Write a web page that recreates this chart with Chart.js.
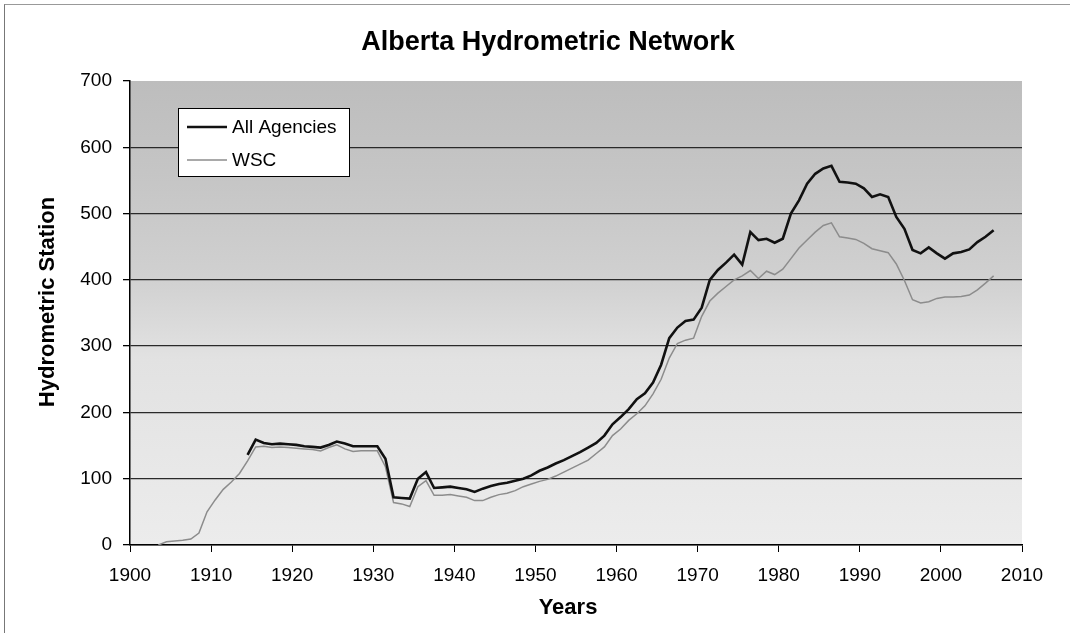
<!DOCTYPE html>
<html>
<head>
<meta charset="utf-8">
<title>Alberta Hydrometric Network</title>
<script src="https://cdn.jsdelivr.net/npm/chart.js@4.4.1/dist/chart.umd.min.js"></script>
<style>
  html, body { margin: 0; padding: 0; background: #fff; }
  #wrap { position: relative; width: 1070px; height: 633px; }
  #frame { position: absolute; left: 4px; top: 4px; right: 0; bottom: 0;
           border-left: 1px solid #777; border-top: 1px solid #999; }
  canvas { position: absolute; left: 0; top: 0; }
</style>
</head>
<body>
<div id="wrap">
  <div id="frame"></div>
  <canvas id="hydroChart" width="1070" height="633"></canvas>
</div>
<script>
var years = [
  1903, 1904, 1905, 1906, 1907, 1908, 1909,
  1910, 1911, 1912, 1913, 1914, 1915, 1916, 1917, 1918, 1919,
  1920, 1921, 1922, 1923, 1924, 1925, 1926, 1927, 1928, 1929,
  1930, 1931, 1932, 1933, 1934, 1935, 1936, 1937, 1938, 1939,
  1940, 1941, 1942, 1943, 1944, 1945, 1946, 1947, 1948, 1949,
  1950, 1951, 1952, 1953, 1954, 1955, 1956, 1957, 1958, 1959,
  1960, 1961, 1962, 1963, 1964, 1965, 1966, 1967, 1968, 1969,
  1970, 1971, 1972, 1973, 1974, 1975, 1976, 1977, 1978, 1979,
  1980, 1981, 1982, 1983, 1984, 1985, 1986, 1987, 1988, 1989,
  1990, 1991, 1992, 1993, 1994, 1995, 1996, 1997, 1998, 1999,
  2000, 2001, 2002, 2003, 2004, 2005, 2006
];

var allAgencies = [
  null, null, null, null, null, null, null,
  null, null, null, null, 136, 159, 154, 152, 153, 152,
  151, 149, 148, 147, 151, 156, 153, 149, 149, 149,
  149, 130, 72, 71, 70, 100, 110, 86, 87, 88,
  86, 84, 80, 85, 89, 92, 94, 97, 100, 105,
  112, 117, 123, 128, 134, 140, 147, 154, 165, 182,
  193, 205, 220, 229, 245, 272, 312, 328, 338, 340,
  358, 400, 415, 426, 438, 423, 472, 460, 462, 456,
  462, 500, 520, 545, 560, 568, 572, 548, 547, 545,
  538, 525, 529, 525, 495, 477, 445, 440, 449, 440,
  432, 440, 442, 446, 457, 465, 475
];

var wsc = [
  0, 5, 6, 7, 9, 18, 50,
  68, 84, 95, 108, 127, 148, 149, 147, 148, 147,
  146, 145, 144, 142, 147, 151, 145, 141, 142, 142,
  142, 118, 64, 62, 58, 88, 97, 75, 75, 76,
  74, 72, 67, 67, 72, 76, 78, 82, 88, 92,
  96, 99, 104, 110, 116, 122, 128, 138, 148, 165,
  175, 188, 198, 210, 228, 250, 282, 304, 309, 312,
  345, 368, 380, 390, 400, 406, 414, 402, 413, 408,
  416, 432, 448, 460, 472, 482, 486, 465, 463, 461,
  455, 447, 444, 441, 424, 399, 370, 365, 367, 372,
  374, 374, 375, 377, 385, 395, 406
];

var yTicks = [0, 100, 200, 300, 400, 500, 600, 700];
var xTicks = [1900, 1910, 1920, 1930, 1940, 1950, 1960, 1970, 1980, 1990, 2000, 2010];

var FONT = '"Liberation Sans", Arial, sans-serif';

// each year is plotted in the middle of its one-year slot, like the original
function toPoints(vals) {
  return years.map(function (yr, i) { return { x: yr + 0.5, y: vals[i] }; });
}

var plotBackground = {
  id: 'plotBackground',
  beforeDraw: function (chart) {
    var a = chart.chartArea, ctx = chart.ctx;
    var g = ctx.createLinearGradient(0, a.top, 0, a.bottom);
    g.addColorStop(0, '#bdbdbd');
    g.addColorStop(0.22, '#c6c6c6');
    g.addColorStop(0.42, '#d0d0d0');
    g.addColorStop(0.6, '#e2e2e2');
    g.addColorStop(1, '#ececec');
    ctx.save();
    ctx.fillStyle = g;
    ctx.fillRect(a.left, a.top, a.right - a.left, a.bottom - a.top);
    ctx.restore();
  }
};

var textAndLegend = {
  id: 'textAndLegend',
  afterDraw: function (chart) {
    var ctx = chart.ctx;
    ctx.save();
    ctx.fillStyle = '#000';
    ctx.textAlign = 'center';
    ctx.textBaseline = 'middle';
    ctx.font = 'bold 27px ' + FONT;
    ctx.fillText('Alberta Hydrometric Network', 548, 43);
    ctx.font = 'bold 22px ' + FONT;
    ctx.fillText('Years', 568, 608);
    ctx.save();
    ctx.translate(48, 302);
    ctx.rotate(-Math.PI / 2);
    ctx.fillText('Hydrometric Station', 0, 0);
    ctx.restore();

    // legend box inside the plot
    ctx.fillStyle = '#fff';
    ctx.fillRect(178, 108, 171, 68);
    ctx.strokeStyle = '#000';
    ctx.lineWidth = 1;
    ctx.strokeRect(178.5, 108.5, 171, 68);
    ctx.font = '19px ' + FONT;
    ctx.textAlign = 'left';
    var rows = [127, 160];
    chart.data.datasets.forEach(function (ds, i) {
      ctx.strokeStyle = ds.borderColor;
      ctx.lineWidth = ds.borderWidth;
      ctx.beginPath();
      ctx.moveTo(187, rows[i]);
      ctx.lineTo(227, rows[i]);
      ctx.stroke();
      ctx.fillStyle = '#000';
      ctx.fillText(ds.label, 232, rows[i] + 1);
    });
    ctx.restore();
  }
};

var chart = new Chart(document.getElementById('hydroChart'), {
  type: 'line',
  data: {
    datasets: [
      {
        label: 'All Agencies',
        data: toPoints(allAgencies),
        borderColor: '#111',
        borderWidth: 2.6,
        pointRadius: 0,
        tension: 0,
        spanGaps: false
      },
      {
        label: 'WSC',
        data: toPoints(wsc),
        borderColor: '#8c8c8c',
        borderWidth: 1.5,
        pointRadius: 0,
        tension: 0
      }
    ]
  },
  options: {
    responsive: false,
    animation: false,
    layout: { padding: { top: 81, right: 48, left: 0, bottom: 0 } },
    plugins: {
      legend: { display: false },
      tooltip: { enabled: false }
    },
    scales: {
      x: {
        type: 'linear',
        min: xTicks[0],
        max: xTicks[xTicks.length - 1],
        afterFit: function (s) { s.height = 88; },
        afterBuildTicks: function (s) { s.ticks = xTicks.map(function (v) { return { value: v }; }); },
        border: { color: '#000', width: 1.5 },
        grid: { drawOnChartArea: false, tickLength: 7, color: '#000' },
        ticks: { color: '#000', padding: 12, maxRotation: 0, autoSkip: false,
                 font: { family: FONT, size: 19 },
                 callback: function (v) { return String(v); } }
      },
      y: {
        min: yTicks[0],
        max: yTicks[yTicks.length - 1],
        afterFit: function (s) { s.width = 130; },
        afterBuildTicks: function (s) { s.ticks = yTicks.map(function (v) { return { value: v }; }); },
        border: { color: '#000', width: 1.5 },
        grid: {
          tickLength: 7,
          tickColor: '#000',
          lineWidth: 1.3,
          color: function (c) { return c.tick && c.tick.value === 700 ? 'rgba(0,0,0,0)' : '#2a2a2a'; }
        },
        ticks: { color: '#000', padding: 11, font: { family: FONT, size: 19 } }
      }
    }
  },
  plugins: [plotBackground, textAndLegend]
});
</script>
</body>
</html>
